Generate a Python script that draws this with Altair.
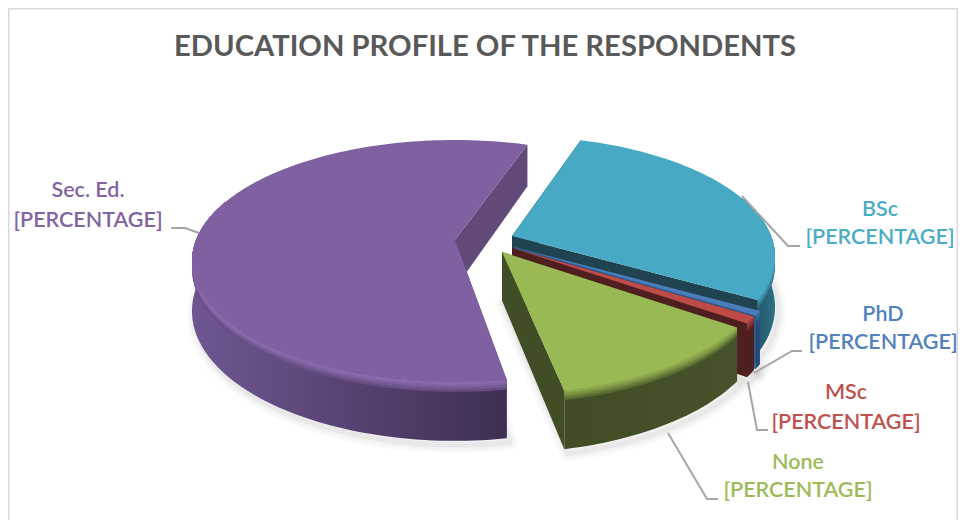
import math
import altair as alt
import pandas as pd

# ---- data
categories = ["Sec. Ed.", "BSc", "PhD", "MSc", "None"]
shares = [58.2, 28.3, 0.6, 0.9, 12.0]
title_text = "EDUCATION PROFILE OF THE RESPONDENTS"
value_label = "[PERCENTAGE]"

# ---- styling / layout (reference pixel space)
W, H = 950, 512
X0, Y0 = 8, 8
START = -72.0          # angle where BSc begins (clockwise, screen space)
slice_order = ["BSc", "PhD", "MSc", "None", "Sec. Ed."]
paint_order = ["Sec. Ed.", "BSc", "PhD", "MSc", "None"]
RX, RY, PERSP, DEPTH = 259.0, 117.4, 0.174, 48.5
apex = {"Sec. Ed.": (455, 240), "BSc": (512, 236), "PhD": (514, 247),
        "MSc": (512, 248), "None": (502, 252)}
edge_trim = {"Sec. Ed.": (2.0, 1.0)}   # perspective correction of the exploded slice's edges
top_col = {"Sec. Ed.": "#7f60a0", "BSc": "#48a9c5", "PhD": "#4a7ebb",
           "MSc": "#be4b48", "None": "#98b954"}
bevel_col = {"Sec. Ed.": "#8a6bad", "BSc": "#3f98b2", "PhD": "#3c6a9f",
             "MSc": "#9c3e3c", "None": "#8aa84c"}
wall_left = {"Sec. Ed.": "#6f5692", "BSc": "#1f4654", "PhD": "#23456f",
             "MSc": "#4f1f1f", "None": "#3f4c24"}
wall_right = {"Sec. Ed.": "#3f2f52", "BSc": "#2c6f86", "PhD": "#274e7c",
              "MSc": "#4f1f1f", "None": "#46532a"}
cut_col = {"Sec. Ed.": "#614a78", "BSc": "#1f4350", "PhD": "#2f5c8f",
           "MSc": "#4f1f1f", "None": "#414d24"}
text_col = {"Sec. Ed.": "#8064a2", "BSc": "#4bacc6", "PhD": "#4f81bd",
            "MSc": "#c0504d", "None": "#9bbb59"}
label_pos = {"Sec. Ed.": (88, 191, 221), "BSc": (880, 210, 238),
             "PhD": (883, 315, 343), "MSc": (846, 393, 423),
             "None": (798, 463, 491)}
leaders = {"Sec. Ed.": [(171, 228), (185, 228), (199, 233)],
           "BSc": [(742, 196), (788, 246), (800, 246)],
           "PhD": [(754, 373), (792, 351), (802, 351)],
           "MSc": [(748, 382), (757, 430), (768, 430)],
           "None": [(668, 433), (707, 499), (718, 499)]}
border = [(8.5, 521), (8.5, 8.5), (957.5, 8.5), (957.5, 521)]

x_scale = alt.Scale(domain=[X0, X0 + W], range=[0, W])
y_scale = alt.Scale(domain=[Y0, Y0 + H], range=[0, H])
X = alt.X("x:Q", scale=x_scale, axis=None)
Y = alt.Y("y:Q", scale=y_scale, axis=None)


def proj(name, deg, r=1.0, depth=0.0):
    t = math.radians(deg)
    s, c = r * math.sin(t), r * math.cos(t)
    k = 1.0 / (1.0 - PERSP * s)
    ax, ay = apex[name]
    return ax + RX * c * k, ay + RY * s * k + depth * k


def arc(name, a, b, r=1.0, depth=0.0):
    n = max(2, int(abs(b - a) / 1.5))
    return [proj(name, a + (b - a) * i / n, r, depth) for i in range(n + 1)]


def poly(points, **mark):
    df = pd.DataFrame(points, columns=["x", "y"])
    df["i"] = range(len(df))
    return alt.Chart(df).mark_line(**mark).encode(x=X, y=Y, order="i:Q")


def filled(points, fill):
    pts = points + [points[0]]
    return poly(pts, fill=fill, stroke=None, strokeWidth=0, clip=False)


def blend(c1, c2, f):
    a = [int(c1[i:i + 2], 16) for i in (1, 3, 5)]
    b = [int(c2[i:i + 2], 16) for i in (1, 3, 5)]
    return "#" + "".join(f"{round(p + (q - p) * f):02x}" for p, q in zip(a, b))


span = {}
cur = START
total = sum(shares)
for nm in slice_order:
    d = shares[categories.index(nm)] / total * 360.0
    t0, t1 = edge_trim.get(nm, (0.0, 0.0))
    span[nm] = (cur + t0, cur + d + t1)
    cur += d

layers = []

# soft shadow under the pie
for nm in paint_order:
    a, b = span[nm]
    va, vb = max(a, -20.0), min(b, 200.0)
    low = [(x + 3, y + 4) for x, y in arc(nm, va, vb, 1.0, DEPTH)]
    ap = proj(nm, 0, 0.0, DEPTH)
    shape = [ap] + low + [ap]
    for w, op in [(16, 0.03), (10, 0.04), (5, 0.05)]:
        layers.append(poly(shape, stroke="#404040", strokeWidth=w, opacity=op,
                           strokeJoin="round"))

for nm in paint_order:
    a, b = span[nm]
    va, vb = max(a, -20.0), min(b, 200.0)   # only the front of the rim shows a wall
    ap_top = proj(nm, 0, 0.0, 0)
    ap_low = proj(nm, 0, 0.0, DEPTH)
    # cut faces
    for ang in (a, b):
        rim_t, rim_l = proj(nm, ang), proj(nm, ang, 1.0, DEPTH)
        layers.append(filled([ap_top, rim_t, rim_l, ap_low], cut_col[nm]))
    # outer wall
    layers.append(filled(arc(nm, va, vb) + arc(nm, vb, va, 1.0, DEPTH),
                         alt.Gradient(gradient="linear", x1=0, x2=1, y1=0, y2=0,
                                      stops=[alt.GradientStop(offset=0, color=wall_left[nm]),
                                             alt.GradientStop(offset=1, color=wall_right[nm])])))
    # rounded shoulder of the wall, fading from the top colour into the wall
    mid_wall = blend(wall_left[nm], wall_right[nm], 0.5)
    for dep, f in [(8.0, 0.7), (6.0, 0.45), (4.0, 0.2), (2.0, 0.0)]:
        layers.append(filled(arc(nm, va, vb) + arc(nm, vb, va, 1.0, dep),
                             blend(bevel_col[nm], mid_wall, f)))
    # top face
    layers.append(filled([ap_top] + arc(nm, a, b), top_col[nm]))

# leader lines
for nm in categories:
    layers.append(poly(leaders[nm], stroke="#a6a6a6", strokeWidth=2))

# frame
layers.append(poly(border, stroke="#d9d9d9", strokeWidth=2))

# title
FONT = "Lato"
title_df = pd.DataFrame({"x": [485], "y": [47], "t": [title_text]})
layers.append(alt.Chart(title_df).mark_text(font=FONT, fontSize=29.2, fontWeight="bold",
                                            color="#595959", baseline="middle", align="center")
              .encode(x=X, y=Y, text="t:N"))

# slice labels
for nm in categories:
    lx, y1, y2 = label_pos[nm]
    df = pd.DataFrame({"x": [lx, lx], "y": [y1, y2], "t": [nm, value_label]})
    layers.append(alt.Chart(df).mark_text(font=FONT, fontSize=21.5, fontWeight=600,
                                          color=text_col[nm], baseline="middle", align="center")
                  .encode(x=X, y=Y, text="t:N"))

chart = alt.layer(*layers).properties(width=W, height=H, padding=0, background="white",
                                      autosize=alt.AutoSizeParams(type="none")
                                      ).configure_view(stroke=None)
chart.save("out.html", embed_options={"renderer": "svg", "actions": False})
